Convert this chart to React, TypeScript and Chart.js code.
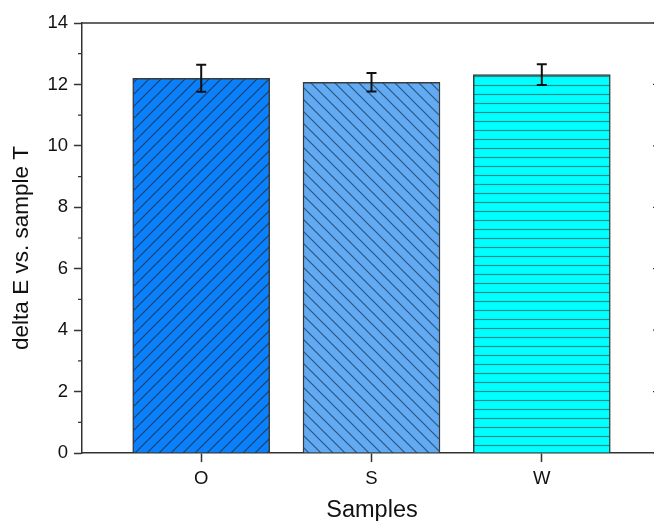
import React, { useEffect, useRef } from "react";
import { Chart, registerables } from "chart.js";

Chart.register(...registerables);

const categories = ["O", "S", "W"];
const positions = [1, 2, 3];
const values = [12.2, 12.07, 12.32];
const errors = [0.44, 0.3, 0.34];
const fills = ["#0A80FA", "#62AAF2", "#00FFFF"];
const hatchColors = ["#1A3F6E", "#2A5580", "#1A8C8C"];
const hatchTypes = ["fwd", "back", "horiz"];

const FONT = "'Liberation Sans', Arial, sans-serif";

function makePattern(bg: string, line: string, type: string): CanvasPattern | string {
  const c = document.createElement("canvas");
  const s = type === "horiz" ? 9 : 12;
  c.width = s;
  c.height = s;
  const ctx = c.getContext("2d");
  if (!ctx) return bg;
  ctx.fillStyle = bg;
  ctx.fillRect(0, 0, s, s);
  ctx.strokeStyle = line;
  ctx.lineWidth = 1.2;
  ctx.beginPath();
  if (type === "fwd") {
    ctx.moveTo(-2, s + 2);
    ctx.lineTo(s + 2, -2);
    ctx.moveTo(-2, 2);
    ctx.lineTo(2, -2);
    ctx.moveTo(s - 2, s + 2);
    ctx.lineTo(s + 2, s - 2);
  } else if (type === "back") {
    ctx.moveTo(-2, -2);
    ctx.lineTo(s + 2, s + 2);
    ctx.moveTo(-2, s - 2);
    ctx.lineTo(2, s + 2);
    ctx.moveTo(s - 2, -2);
    ctx.lineTo(s + 2, 2);
  } else {
    ctx.moveTo(0, 4.5);
    ctx.lineTo(s, 4.5);
  }
  ctx.stroke();
  const p = ctx.createPattern(c, "repeat");
  return p || bg;
}

const extras = {
  id: "extras",
  afterDatasetsDraw(chart: any) {
    const { ctx, chartArea, scales } = chart;
    const xs = scales.x;
    const ys = scales.y;
    ctx.save();
    // error bars
    ctx.strokeStyle = "#111";
    ctx.lineWidth = 2;
    for (let i = 0; i < values.length; i++) {
      const x = xs.getPixelForValue(positions[i]);
      const yt = ys.getPixelForValue(values[i] + errors[i]);
      const yb = ys.getPixelForValue(values[i] - errors[i]);
      ctx.beginPath();
      ctx.moveTo(x, yt);
      ctx.lineTo(x, yb);
      ctx.moveTo(x - 5, yt);
      ctx.lineTo(x + 5, yt);
      ctx.moveTo(x - 5, yb);
      ctx.lineTo(x + 5, yb);
      ctx.stroke();
    }
    // frame top and right
    ctx.strokeStyle = "#333";
    ctx.lineWidth = 1.5;
    ctx.beginPath();
    ctx.moveTo(chartArea.left, chartArea.top);
    ctx.lineTo(chartArea.right, chartArea.top);
    ctx.lineTo(chartArea.right, chartArea.bottom);
    ctx.stroke();
    // minor ticks left, major ticks right (inward)
    ctx.lineWidth = 1.2;
    ctx.beginPath();
    for (let v = ys.min; v <= ys.max; v += 1) {
      const y = ys.getPixelForValue(v);
      if (v % 2 === 1) {
        ctx.moveTo(chartArea.left - 4, y);
        ctx.lineTo(chartArea.left, y);
      } else {
        ctx.moveTo(chartArea.right - 8, y);
        ctx.lineTo(chartArea.right, y);
      }
    }
    ctx.stroke();
    // titles
    ctx.fillStyle = "#111";
    ctx.font = "23.5px " + FONT;
    ctx.textAlign = "center";
    ctx.textBaseline = "middle";
    ctx.fillText("Samples", 372, 511);
    ctx.font = "22.5px " + FONT;
    ctx.translate(22, 248);
    ctx.rotate(-Math.PI / 2);
    ctx.fillText("delta E vs. sample T", 0, 0);
    ctx.restore();
  },
};

export default function App() {
  const ref = useRef<HTMLCanvasElement | null>(null);
  useEffect(() => {
    if (!ref.current) return;
    const bg = hatchTypes.map((t, i) => makePattern(fills[i], hatchColors[i], t));
    const chart = new Chart(ref.current, {
      type: "bar",
      data: {
        datasets: [
          {
            data: positions.map((p, i) => ({ x: p, y: values[i] })),
            backgroundColor: bg as any,
            borderColor: "#3a3a3a",
            borderWidth: 1.5,
            barThickness: 137,
          } as any,
        ],
      },
      options: {
        responsive: false,
        animation: false,
        devicePixelRatio: 1,
        layout: { padding: { top: 23, right: 39, left: 0, bottom: 0 } },
        plugins: { legend: { display: false }, tooltip: { enabled: false } },
        scales: {
          x: {
            type: "linear",
            min: 0.3,
            max: 3.7,
            offset: false,
            afterFit(scale: any) {
              scale.height = 68;
            },
            afterBuildTicks(scale: any) {
              scale.ticks = positions.map((p) => ({ value: p }));
            },
            ticks: {
              autoSkip: false,
              maxRotation: 0,
              padding: 6,
              color: "#111",
              font: { family: FONT, size: 18.5 },
              callback: (v: any) => {
                const idx = positions.indexOf(Number(v));
                return idx >= 0 ? categories[idx] : "";
              },
            },
            grid: {
              offset: false,
              drawOnChartArea: false,
              drawTicks: true,
              tickLength: 9,
              tickWidth: 1.5,
              tickColor: "#333",
            },
            border: { display: true, color: "#333", width: 1.5 },
          },
          y: {
            min: 0,
            max: 14,
            afterFit(scale: any) {
              scale.width = 82;
            },
            ticks: {
              stepSize: 2,
              padding: 6,
              color: "#111",
              font: { family: FONT, size: 18.5 },
            },
            grid: {
              drawOnChartArea: false,
              drawTicks: true,
              tickLength: 8,
              tickWidth: 1.5,
              tickColor: "#333",
            },
            border: { display: true, color: "#333", width: 1.5 },
          },
        },
      },
      plugins: [extras],
    });
    return () => chart.destroy();
  }, []);
  return (
    <div
      style={{
        position: "fixed",
        left: 0,
        top: 0,
        width: 654,
        height: 521,
        overflow: "hidden",
        background: "#fff",
      }}
    >
      <canvas ref={ref} width={700} height={521} style={{ width: 700, height: 521 }} />
    </div>
  );
}
